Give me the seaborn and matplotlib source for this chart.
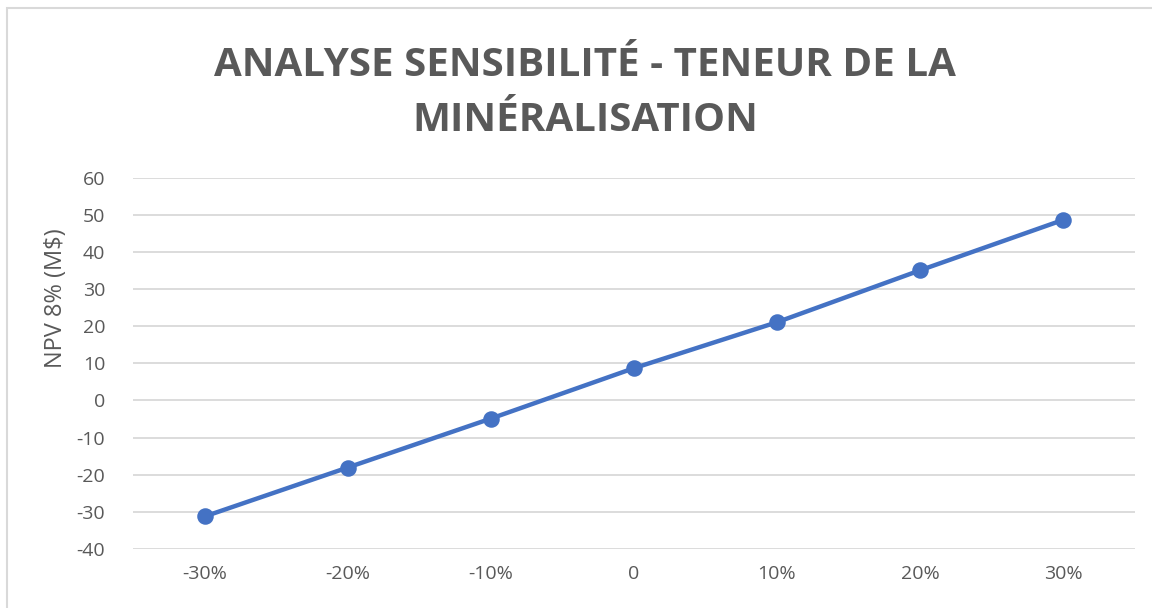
import numpy as np
import pandas as pd
import matplotlib
matplotlib.use("Agg")
import matplotlib.pyplot as plt
from matplotlib.patches import Rectangle
import seaborn as sns

sns.set_style("white")
plt.rcParams['font.family'] = ['Open Sans', 'DejaVu Sans']
plt.rcParams['axes.unicode_minus'] = False

# data
variation = ["-30%", "-20%", "-10%", "0", "10%", "20%", "30%"]
npv = [-31.3, -18.1, -4.9, 8.7, 21.1, 35.1, 48.7]
yticks = [-40, -30, -20, -10, 0, 10, 20, 30, 40, 50, 60]

df = pd.DataFrame({"variation": variation, "npv": npv})

grey = "#595959"
blue = "#4472C4"

fig = plt.figure(figsize=(11.52, 6.08), dpi=100)
ax = fig.add_axes([0.1155, 0.0975, 0.8695, 0.6097])

sns.pointplot(data=df, x="variation", y="npv", color=blue, ax=ax,
              linewidth=3.2, markersize=9.5, errorbar=None)

ax.set_ylim(-40, 60)
ax.set_yticks(yticks)
ax.set_xlim(-0.5, len(variation) - 0.5)
ax.grid(axis="y", color="#d9d9d9", linewidth=1.3)
ax.set_axisbelow(True)
for s in ax.spines.values():
    s.set_visible(False)
ax.tick_params(axis="both", length=0, labelsize=14, colors=grey)
ax.tick_params(axis="y", pad=20)
ax.tick_params(axis="x", pad=12)
ax.set_xlabel("")
ax.set_ylabel("NPV 8% (M$)", fontsize=17, color=grey)
ax.yaxis.set_label_coords(-0.065, 0.676)

fig.text(0.508, 0.847, "ANALYSE SENSIBILITÉ - TENEUR DE LA\nMINÉRALISATION",
         ha="center", va="center", fontsize=29, fontweight="bold",
         color=grey, linespacing=1.55)

# chart area border (cropped: only top and left visible)
fig.patches.append(Rectangle((7 / 1152, -0.1), 1.2, 1.1 - 8 / 608,
                             transform=fig.transFigure, fill=False,
                             edgecolor="#d9d9d9", linewidth=1.5))

plt.savefig("out.png", dpi=100)
